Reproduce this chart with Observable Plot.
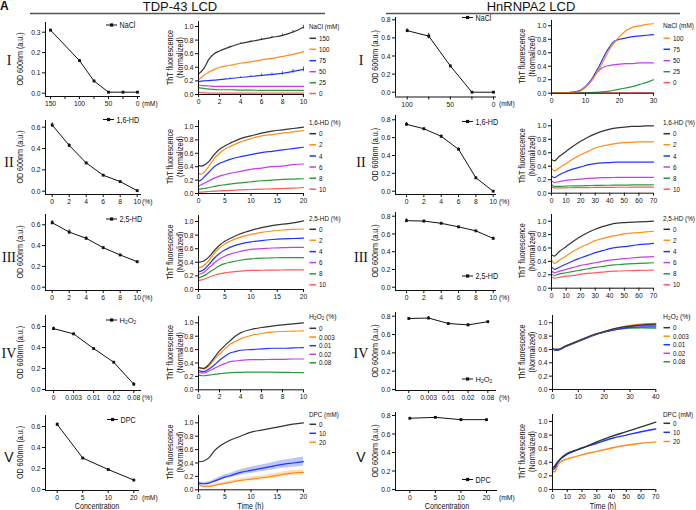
<!DOCTYPE html>
<html><head><meta charset="utf-8">
<script src="https://cdn.jsdelivr.net/npm/d3@7"></script>
<script src="https://cdn.jsdelivr.net/npm/@observablehq/plot@0.6"></script>
<style>
body{margin:0;background:#fff;}
#fig{position:relative;width:696px;height:510px;overflow:hidden;background:#fff;}
#fig svg{position:absolute;}
</style></head><body><div id="fig"></div>
<script>
// ---------------- DATA ----------------
// Row I : NaCl
const tdpNaClConc = [150, 100, 75, 50, 25, 0];
const tdpNaClOD = [0.31, 0.16, 0.06, 0.005, 0.005, 0.005];
const tdpNaClODErr = [0.004, 0.005, 0.004, 0.003, 0.003, 0.003];
const tdpNaClTime = [0, 0.5, 1, 1.5, 2, 3, 4, 5, 6, 7, 8, 9, 10];
const tdpNaClNames = ["150", "100", "75", "50", "25", "0"];
const tdpNaClThT = [
  [0.30, 0.38, 0.52, 0.60, 0.64, 0.70, 0.75, 0.78, 0.81, 0.84, 0.87, 0.92, 0.99],
  [0.22, 0.28, 0.33, 0.37, 0.40, 0.43, 0.46, 0.48, 0.51, 0.53, 0.56, 0.59, 0.63],
  [0.19, 0.20, 0.205, 0.21, 0.22, 0.235, 0.25, 0.265, 0.28, 0.295, 0.31, 0.34, 0.37],
  [0.14, 0.13, 0.125, 0.12, 0.12, 0.12, 0.12, 0.12, 0.12, 0.12, 0.12, 0.12, 0.12],
  [0.10, 0.09, 0.08, 0.075, 0.07, 0.07, 0.065, 0.065, 0.06, 0.06, 0.06, 0.06, 0.06],
  [0.03, 0.025, 0.02, 0.02, 0.02, 0.02, 0.02, 0.02, 0.02, 0.02, 0.02, 0.02, 0.02]
];
const tdpNaClThTErr = [
  [0, 0, 0, 0, 0, 0.01, 0.01, 0.01, 0.015, 0.015, 0.02, 0.02, 0.025],
  [0, 0, 0, 0, 0, 0, 0, 0, 0, 0, 0, 0, 0],
  [0, 0, 0, 0, 0, 0.01, 0.01, 0.015, 0.02, 0.02, 0.025, 0.03, 0.035],
  [0, 0, 0, 0, 0, 0, 0, 0, 0, 0, 0, 0, 0],
  [0, 0, 0, 0, 0, 0, 0, 0, 0, 0, 0, 0, 0],
  [0, 0, 0, 0, 0, 0, 0, 0, 0, 0, 0, 0, 0]
];
const hnNaClConc = [100, 75, 50, 25, 0];
const hnNaClOD = [0.68, 0.62, 0.29, 0.0, 0.0];
const hnNaClODErr = [0.02, 0.03, 0.01, 0.005, 0.005];
const hnNaClTime = [0, 5, 8, 10, 12, 13, 14, 15, 16, 17, 18, 20, 22, 24, 26, 28, 30];
const hnNaClNames = ["100", "75", "50", "25", "0"];
const hnNaClThT = [
  [0.01, 0.01, 0.02, 0.09, 0.20, 0.28, 0.36, 0.45, 0.55, 0.64, 0.72, 0.84, 0.93, 0.98, 1.0, 1.02, 1.03],
  [0.01, 0.01, 0.03, 0.10, 0.22, 0.31, 0.40, 0.50, 0.60, 0.68, 0.75, 0.80, 0.82, 0.84, 0.85, 0.86, 0.87],
  [0.01, 0.01, 0.03, 0.09, 0.20, 0.28, 0.34, 0.38, 0.40, 0.41, 0.42, 0.43, 0.44, 0.44, 0.45, 0.45, 0.45],
  [0, 0, 0.003, 0.005, 0.01, 0.012, 0.015, 0.02, 0.025, 0.03, 0.04, 0.06, 0.08, 0.10, 0.13, 0.16, 0.20],
  [0.005, 0.005, 0.005, 0.005, 0.005, 0.005, 0.005, 0.005, 0.005, 0.005, 0.005, 0.005, 0.005, 0.005, 0.005, 0.005, 0.005]
];
// Row II : 1,6-HD
const hdConc = [0, 2, 4, 6, 8, 10];
const tdp16OD = [0.62, 0.43, 0.265, 0.15, 0.09, 0.005];
const tdp16ODErr = [0.02, 0.015, 0.008, 0.006, 0.005, 0.004];
const tdp16Time = [0, 0.5, 1, 2, 3, 4, 5, 6, 8, 10, 12, 14, 16, 18, 20];
const hdNames = ["0", "2", "4", "6", "8", "10"];
const tdp16ThT = [
  [0.42, 0.41, 0.42, 0.48, 0.58, 0.66, 0.71, 0.75, 0.82, 0.86, 0.90, 0.93, 0.95, 0.97, 0.99],
  [0.30, 0.29, 0.31, 0.41, 0.52, 0.60, 0.66, 0.70, 0.77, 0.82, 0.86, 0.88, 0.90, 0.92, 0.94],
  [0.18, 0.20, 0.24, 0.32, 0.40, 0.45, 0.48, 0.51, 0.55, 0.58, 0.61, 0.63, 0.65, 0.67, 0.69],
  [0.11, 0.13, 0.15, 0.19, 0.23, 0.26, 0.28, 0.30, 0.33, 0.36, 0.38, 0.40, 0.41, 0.43, 0.44],
  [0.06, 0.07, 0.075, 0.09, 0.105, 0.12, 0.13, 0.14, 0.16, 0.175, 0.19, 0.20, 0.21, 0.215, 0.22],
  [0.02, 0.02, 0.025, 0.03, 0.035, 0.04, 0.043, 0.046, 0.055, 0.06, 0.065, 0.07, 0.075, 0.08, 0.09]
];
const hn16OD = [0.75, 0.70, 0.615, 0.47, 0.15, 0.0];
const hn16ODErr = [0.02, 0.008, 0.015, 0.015, 0.008, 0.005];
const hn16Time = [0, 2, 5, 10, 15, 20, 25, 30, 35, 40, 45, 50, 55, 60, 65, 70];
const hn16ThT = [
  [0.50, 0.48, 0.54, 0.62, 0.70, 0.77, 0.83, 0.88, 0.92, 0.95, 0.97, 0.98, 0.99, 0.99, 1.0, 1.0],
  [0.37, 0.33, 0.37, 0.44, 0.51, 0.57, 0.62, 0.67, 0.70, 0.72, 0.74, 0.75, 0.755, 0.76, 0.76, 0.76],
  [0.25, 0.23, 0.27, 0.32, 0.36, 0.39, 0.42, 0.44, 0.45, 0.455, 0.46, 0.46, 0.46, 0.46, 0.46, 0.46],
  [0.18, 0.16, 0.17, 0.19, 0.20, 0.21, 0.22, 0.225, 0.23, 0.23, 0.235, 0.235, 0.235, 0.235, 0.235, 0.235],
  [0.13, 0.10, 0.10, 0.105, 0.11, 0.11, 0.113, 0.115, 0.117, 0.118, 0.12, 0.12, 0.122, 0.123, 0.124, 0.125],
  [0.09, 0.08, 0.08, 0.08, 0.082, 0.083, 0.084, 0.085, 0.086, 0.087, 0.088, 0.088, 0.089, 0.09, 0.09, 0.09]
];
// Row III : 2,5-HD
const tdp25OD = [0.62, 0.53, 0.47, 0.38, 0.31, 0.245];
const tdp25ODErr = [0.02, 0.02, 0.015, 0.008, 0.005, 0.008];
const tdp25Time = [0, 1, 2, 3, 4, 5, 6, 8, 10, 12, 14, 16, 18, 20];
const tdp25ThT = [
  [0.40, 0.42, 0.48, 0.57, 0.65, 0.71, 0.75, 0.82, 0.87, 0.91, 0.94, 0.96, 0.98, 1.01],
  [0.32, 0.35, 0.43, 0.53, 0.61, 0.67, 0.71, 0.77, 0.81, 0.84, 0.86, 0.875, 0.885, 0.89],
  [0.26, 0.29, 0.37, 0.46, 0.53, 0.58, 0.62, 0.67, 0.70, 0.72, 0.735, 0.745, 0.75, 0.755],
  [0.22, 0.25, 0.32, 0.39, 0.45, 0.49, 0.52, 0.56, 0.59, 0.60, 0.61, 0.615, 0.62, 0.62],
  [0.17, 0.20, 0.25, 0.30, 0.35, 0.38, 0.40, 0.43, 0.45, 0.46, 0.465, 0.47, 0.47, 0.47],
  [0.13, 0.15, 0.18, 0.21, 0.23, 0.245, 0.255, 0.27, 0.28, 0.283, 0.285, 0.287, 0.289, 0.29]
];
const hn25OD = [0.75, 0.745, 0.72, 0.68, 0.635, 0.55];
const hn25ODErr = [0.02, 0.01, 0.01, 0.005, 0.005, 0.015];
const hn25Time = [0, 2, 5, 10, 15, 20, 25, 30, 35, 40, 45, 50, 60, 70];
const hn25ThT = [
  [0.50, 0.48, 0.54, 0.62, 0.70, 0.77, 0.83, 0.88, 0.92, 0.95, 0.97, 0.98, 0.99, 1.0],
  [0.42, 0.37, 0.41, 0.48, 0.55, 0.61, 0.66, 0.71, 0.74, 0.77, 0.79, 0.81, 0.83, 0.85],
  [0.32, 0.28, 0.31, 0.36, 0.41, 0.45, 0.49, 0.53, 0.56, 0.59, 0.61, 0.62, 0.65, 0.67],
  [0.26, 0.23, 0.25, 0.28, 0.31, 0.34, 0.36, 0.38, 0.40, 0.42, 0.43, 0.44, 0.46, 0.47],
  [0.21, 0.19, 0.21, 0.23, 0.25, 0.27, 0.29, 0.31, 0.325, 0.34, 0.35, 0.36, 0.37, 0.38],
  [0.17, 0.15, 0.16, 0.18, 0.19, 0.21, 0.22, 0.23, 0.24, 0.25, 0.255, 0.26, 0.265, 0.27]
];
// Row IV : H2O2
const h2o2Labels = ["0", "0.003", "0.01", "0.02", "0.08"];
const tdpH2O2OD = [0.58, 0.53, 0.39, 0.26, 0.05];
const tdpH2O2ODErr = [0.015, 0.005, 0.005, 0.005, 0.015];
const tdpH2O2Time = [0, 0.5, 1, 1.5, 2, 2.5, 3, 3.5, 4, 5, 6, 7, 8, 9, 10];
const tdpH2O2ThT = [
  [0.33, 0.32, 0.38, 0.48, 0.58, 0.66, 0.73, 0.80, 0.85, 0.90, 0.93, 0.95, 0.97, 0.985, 1.0],
  [0.34, 0.31, 0.36, 0.45, 0.53, 0.61, 0.68, 0.72, 0.76, 0.81, 0.84, 0.86, 0.87, 0.875, 0.88],
  [0.29, 0.27, 0.31, 0.37, 0.44, 0.50, 0.55, 0.57, 0.59, 0.60, 0.61, 0.62, 0.62, 0.625, 0.63],
  [0.26, 0.25, 0.28, 0.32, 0.36, 0.39, 0.42, 0.43, 0.44, 0.45, 0.45, 0.455, 0.455, 0.46, 0.46],
  [0.22, 0.21, 0.22, 0.23, 0.24, 0.25, 0.255, 0.26, 0.26, 0.265, 0.265, 0.263, 0.26, 0.258, 0.255]
];
const hnH2O2OD = [0.775, 0.78, 0.72, 0.705, 0.74];
const hnH2O2ODErr = [0.005, 0.015, 0.005, 0.015, 0.005];
const hnH2O2Time = [0, 1, 2, 5, 10, 15, 20, 25, 30, 35, 40];
const hnH2O2ThT = [
  [0.62, 0.60, 0.60, 0.65, 0.73, 0.81, 0.87, 0.92, 0.95, 0.97, 0.98],
  [0.62, 0.60, 0.60, 0.65, 0.73, 0.81, 0.87, 0.92, 0.96, 0.985, 0.99],
  [0.61, 0.59, 0.59, 0.64, 0.72, 0.80, 0.86, 0.90, 0.93, 0.94, 0.94],
  [0.62, 0.60, 0.60, 0.65, 0.73, 0.81, 0.87, 0.91, 0.94, 0.96, 0.96],
  [0.61, 0.59, 0.59, 0.64, 0.72, 0.80, 0.86, 0.90, 0.92, 0.925, 0.92]
];
// Row V : DPC
const dpcLabels = ["0", "5", "10", "20"];
const dpcNames = ["0", "10", "20"];
const tdpDpcOD = [0.62, 0.30, 0.19, 0.09];
const tdpDpcODErr = [0.015, 0.005, 0.005, 0.005];
const tdpDpcTime = [0, 1, 2, 3, 4, 5, 6, 8, 10, 12, 14, 16, 18, 20];
const tdpDpcThT = [
  [0.42, 0.43, 0.48, 0.58, 0.65, 0.70, 0.74, 0.80, 0.86, 0.89, 0.92, 0.95, 0.98, 1.0],
  [0.10, 0.09, 0.10, 0.13, 0.16, 0.19, 0.21, 0.26, 0.29, 0.32, 0.35, 0.38, 0.40, 0.42],
  [0.08, 0.05, 0.05, 0.065, 0.08, 0.095, 0.11, 0.14, 0.16, 0.18, 0.20, 0.23, 0.25, 0.26]
];
const tdpDpcThTErr = [
  [0, 0, 0, 0, 0, 0, 0, 0, 0, 0, 0, 0, 0, 0],
  [0.02, 0.02, 0.02, 0.025, 0.03, 0.03, 0.035, 0.04, 0.045, 0.05, 0.055, 0.06, 0.065, 0.07],
  [0.015, 0.015, 0.015, 0.02, 0.02, 0.02, 0.025, 0.025, 0.03, 0.03, 0.035, 0.035, 0.04, 0.04]
];
const hnDpcOD = [0.77, 0.78, 0.755, 0.755];
const hnDpcODErr = [0.005, 0.005, 0.012, 0.005];
const hnDpcTime = [0, 1, 2, 3, 5, 10, 15, 20, 30, 40, 50, 60, 70];
const hnDpcThT = [
  [0.32, 0.33, 0.36, 0.39, 0.44, 0.52, 0.57, 0.61, 0.70, 0.78, 0.85, 0.92, 0.99],
  [0.29, 0.30, 0.33, 0.38, 0.44, 0.53, 0.57, 0.61, 0.68, 0.75, 0.80, 0.85, 0.89],
  [0.26, 0.26, 0.27, 0.33, 0.40, 0.45, 0.48, 0.51, 0.56, 0.61, 0.65, 0.68, 0.70]
];

// ---------------- STYLE ----------------
const FONT = '"Liberation Sans", Arial, Helvetica, sans-serif';
const SQUEEZE = 0.84; // the figure's lettering is narrow
const C = {k: "#333333", o: "#ff8c1a", b: "#2035ff", p: "#c53cf2", g: "#2b9a3a", r: "#ff5a5a"};
const six = [C.k, C.o, C.b, C.p, C.g, C.r];
const five = [C.k, C.o, C.b, C.p, C.g];
const naclRight = [C.o, C.b, C.p, C.g, C.r];
const dpcCols = [C.k, C.b, C.o];
const lightCols = {[C.b]: "#aab6ff", [C.o]: "#ffd9a8"};

const fig = document.getElementById("fig");
function condense(root) {
  root.querySelectorAll("text").forEach(t => {
    if (t.classList.contains("keep") || t.querySelector("tspan")) return;
    const L = t.getComputedTextLength();
    if (L > 0) { t.setAttribute("textLength", (L * SQUEEZE).toFixed(2)); t.setAttribute("lengthAdjust", "spacingAndGlyphs"); }
  });
}
const ML = 30, MR = 14, MT = 6, MB = 16;
function lin(a, b, f0, f1) { const k = (b[0] - a[0]) / (b[1] - a[1]); return [a[0] + (f0 - a[1]) * k, a[0] + (f1 - a[1]) * k]; }

function panel(cfg) {
  const [x0, x1] = cfg.fx, [y0, y1] = cfg.fy;
  const xd = lin(cfg.xa[0], cfg.xa[1], x0, x1);
  const yd = lin(cfg.ya[0], cfg.ya[1], y1, y0);
  const svg = Plot.plot({
    width: x1 - x0 + ML + MR, height: y1 - y0 + MT + MB,
    marginLeft: ML, marginRight: MR, marginTop: MT, marginBottom: MB,
    x: {domain: xd}, y: {domain: yd},
    style: {background: "transparent", fontFamily: FONT, fontSize: "8px", color: "#111", overflow: "visible"},
    marks: [
      ...cfg.marks,
      Plot.ruleX([xd[0]], {stroke: "#111", strokeWidth: 1}),
      Plot.ruleY([yd[0]], {stroke: "#111", strokeWidth: 1}),
      Plot.axisY({ticks: cfg.yticks, tickSize: 3, tickPadding: 2, tickFormat: d3.format(".1f"), label: null}),
      Plot.axisX({ticks: cfg.xticks, tickSize: 3, tickPadding: 1, tickFormat: cfg.xfmt || (d => String(d)), label: null})
    ]
  });
  svg.style.left = (x0 - ML) + "px";
  svg.style.top = (y0 - MT) + "px";
  fig.appendChild(svg);
  condense(svg);
}

function odMarks(xs, ys, es) {
  const data = xs.map((x, i) => ({x, v: ys[i], e: es[i]}));
  return [
    Plot.line(data, {x: "x", y: "v", stroke: "#111", strokeWidth: 1}),
    Plot.ruleX(data, {x: "x", y1: d => d.v - d.e, y2: d => d.v + d.e, stroke: "#111", strokeWidth: 1}),
    Plot.dot(data, {x: "x", y: "v", symbol: "square", r: 1.6, fill: "#111", stroke: null})
  ];
}
function thtMarks(times, values, colors, opt = {}) {
  const marks = [];
  const order = values.map((_, j) => j).reverse();
  if (opt.bands) {
    order.forEach(j => {
      if (!opt.bands[j].some(e => e > 0)) return;
      const d = times.map((t, i) => ({t, lo: values[j][i] - opt.bands[j][i], hi: values[j][i] + opt.bands[j][i]}));
      marks.push(Plot.areaY(d, {x: "t", y1: "lo", y2: "hi", fill: lightCols[colors[j]], fillOpacity: 0.8, curve: "monotone-x"}));
    });
  }
  order.forEach(j => {
    const d = times.map((t, i) => ({t, v: values[j][i]}));
    if (opt.errs && opt.errs[j].some(e => e > 0)) {
      const de = times.map((t, i) => ({t, v: values[j][i], e: opt.errs[j][i]})).filter(x => x.e > 0);
      marks.push(Plot.ruleX(de, {x: "t", y1: q => q.v - q.e, y2: q => q.v + q.e, stroke: colors[j], strokeWidth: 0.8}));
    }
    marks.push(Plot.line(d, {x: "t", y: "v", stroke: colors[j], strokeWidth: opt.sw || 1.2, curve: "monotone-x"}));
  });
  return marks;
}
const yOD3 = [0, 0.1, 0.2, 0.3], yOD6 = [0, 0.2, 0.4, 0.6], yOD8 = [0, 0.2, 0.4, 0.6, 0.8];
const yT = [0, 0.2, 0.4, 0.6, 0.8, 1.0];
const idx4 = [0, 1, 2, 3], idx5 = [0, 1, 2, 3, 4];

// ---------------- PANELS ----------------
// Row I
panel({fx: [45, 140], fy: [22, 96], xa: [[150, 50], [0, 137]], ya: [[0, 92.7], [0.3, 31.7]],
  xticks: [150, 125, 100, 75, 50, 25, 0], xfmt: d => (d % 50 === 0 ? String(d) : ""), yticks: yOD3,
  marks: odMarks(tdpNaClConc, tdpNaClOD, tdpNaClODErr)});
panel({fx: [198, 303], fy: [21, 94], xa: [[0, 198], [10, 303]], ya: [[0, 94], [1, 26]],
  xticks: [0, 2, 4, 6, 8, 10], yticks: yT,
  marks: thtMarks(tdpNaClTime, tdpNaClThT, six, {errs: tdpNaClThTErr})});
panel({fx: [395, 496], fy: [17, 96.5], xa: [[100, 406.7], [0, 493]], ya: [[0, 91.7], [0.8, 19.3]],
  xticks: [100, 75, 50, 25, 0], xfmt: d => (d % 50 === 0 ? String(d) : ""), yticks: yOD8,
  marks: odMarks(hnNaClConc, hnNaClOD, hnNaClODErr)});
panel({fx: [551, 653], fy: [20, 92.7], xa: [[0, 551], [30, 653]], ya: [[0, 92.7], [1, 25.3]],
  xticks: [0, 10, 20, 30], yticks: yT, marks: thtMarks(hnNaClTime, hnNaClThT, naclRight)});
// Row II
panel({fx: [45, 141], fy: [120, 194], xa: [[0, 51.7], [10, 136.7]], ya: [[0, 190.7], [0.6, 126.7]],
  xticks: hdConc, yticks: yOD6, marks: odMarks(hdConc, tdp16OD, tdp16ODErr)});
panel({fx: [198, 303], fy: [120, 193], xa: [[0, 198], [20, 303]], ya: [[0, 193], [1, 126]],
  xticks: [0, 5, 10, 15, 20], yticks: yT, marks: thtMarks(tdp16Time, tdp16ThT, six)});
panel({fx: [395, 496], fy: [115, 194], xa: [[0, 406], [10, 492.7]], ya: [[0, 190.7], [0.8, 119.3]],
  xticks: hdConc, yticks: yOD8, marks: odMarks(hdConc, hn16OD, hn16ODErr)});
panel({fx: [551, 653], fy: [119, 192.7], xa: [[0, 551], [70, 653]], ya: [[0, 192.7], [1, 125.3]],
  xticks: [0, 10, 20, 30, 40, 50, 60, 70], yticks: yT, marks: thtMarks(hn16Time, hn16ThT, six)});
// Row III
panel({fx: [45, 141], fy: [214, 290], xa: [[0, 51.7], [10, 136.7]], ya: [[0, 286.7], [0.6, 224.3]],
  xticks: hdConc, yticks: yOD6, marks: odMarks(hdConc, tdp25OD, tdp25ODErr)});
panel({fx: [198, 303], fy: [215, 289], xa: [[0, 198], [20, 303]], ya: [[0, 289], [1, 221]],
  xticks: [0, 5, 10, 15, 20], yticks: yT, marks: thtMarks(tdp25Time, tdp25ThT, six)});
panel({fx: [395, 496], fy: [212, 290], xa: [[0, 406], [10, 492.7]], ya: [[0, 286.7], [0.8, 215.7]],
  xticks: hdConc, yticks: yOD8, marks: odMarks(hdConc, hn25OD, hn25ODErr)});
panel({fx: [551, 653], fy: [214, 287.7], xa: [[0, 551], [70, 653]], ya: [[0, 287.7], [1, 220.7]],
  xticks: [0, 10, 20, 30, 40, 50, 60, 70], yticks: yT, marks: thtMarks(hn25Time, hn25ThT, six)});
// Row IV
panel({fx: [45, 141], fy: [315, 390], xa: [[0, 53], [4, 133.3]], ya: [[0, 389], [0.6, 326]],
  xticks: idx5, xfmt: i => h2o2Labels[i], yticks: yOD6, marks: odMarks(idx5, tdpH2O2OD, tdpH2O2ODErr)});
panel({fx: [198, 303], fy: [316, 389.3], xa: [[0, 198], [10, 303]], ya: [[0, 389.3], [1, 322.3]],
  xticks: [0, 2, 4, 6, 8, 10], yticks: yT, marks: thtMarks(tdpH2O2Time, tdpH2O2ThT, five)});
panel({fx: [395, 496], fy: [312, 390], xa: [[0, 408.3], [4, 487.3]], ya: [[0, 389], [0.8, 315.7]],
  xticks: idx5, xfmt: i => h2o2Labels[i], yticks: yOD8, marks: odMarks(idx5, hnH2O2OD, hnH2O2ODErr)});
panel({fx: [551.7, 655], fy: [315, 389], xa: [[0, 551.7], [40, 655]], ya: [[0, 389], [1, 322.3]],
  xticks: [0, 10, 20, 30, 40], yticks: yT, marks: thtMarks(hnH2O2Time, hnH2O2ThT, five)});
// Row V
panel({fx: [45, 139], fy: [415, 490], xa: [[0, 56.7], [3, 133.3]], ya: [[0, 489], [0.6, 426]],
  xticks: idx4, xfmt: i => dpcLabels[i], yticks: yOD6, marks: odMarks(idx4, tdpDpcOD, tdpDpcODErr)});
panel({fx: [198, 303], fy: [415, 489.3], xa: [[0, 198], [20, 303]], ya: [[0, 489.3], [1, 422.3]],
  xticks: [0, 5, 10, 15, 20], yticks: yT, marks: thtMarks(tdpDpcTime, tdpDpcThT, dpcCols, {bands: tdpDpcThTErr})});
panel({fx: [395, 497], fy: [412, 490], xa: [[0, 409.3], [3, 486]], ya: [[0, 489], [0.8, 415]],
  xticks: idx4, xfmt: i => dpcLabels[i], yticks: yOD8, marks: odMarks(idx4, hnDpcOD, hnDpcODErr)});
panel({fx: [551.7, 655], fy: [414, 489], xa: [[0, 551.7], [70, 655]], ya: [[0, 489], [1, 421]],
  xticks: [0, 10, 20, 30, 40, 50, 60, 70], yticks: yT, marks: thtMarks(hnDpcTime, hnDpcThT, dpcCols, {sw: 1.4})});

// ---------------- DECORATIONS ----------------
const ov = d3.select(fig).append("svg").attr("width", 696).attr("height", 510)
  .style("left", "0px").style("top", "0px").style("font-family", FONT).style("pointer-events", "none");
function txt(x, y, s, o = {}) {
  const sz = o.size || 7.5;
  const t = ov.append("text").attr("x", x).attr("y", y).attr("font-size", sz)
    .attr("fill", o.fill || "#111").attr("text-anchor", o.anchor || "start")
    .attr("dominant-baseline", o.base || "central");
  if (o.keep) t.classed("keep", true);
  if (o.family) t.attr("font-family", o.family);
  if (o.weight) t.attr("font-weight", o.weight);
  if (o.rotate) t.attr("transform", `rotate(-90 ${x} ${y})`);
  if (o.h2o2) {
    t.append("tspan").text("H");
    t.append("tspan").text("2").attr("font-size", sz * 0.65).attr("dy", 2);
    t.append("tspan").text("O").attr("dy", -2);
    t.append("tspan").text("2").attr("font-size", sz * 0.65).attr("dy", 2);
    t.append("tspan").text(o.rest || "").attr("dy", -2);
  } else t.text(s);
  return t;
}
txt(0, 1, "A", {size: 12, weight: "bold", base: "hanging", keep: true});
txt(180, 6, "TDP-43 LCD", {size: 13, anchor: "middle", keep: true});
txt(531, 6, "HnRNPA2 LCD", {size: 13, anchor: "middle", keep: true});
ov.append("line").attr("x1", 30).attr("x2", 325).attr("y1", 13.5).attr("y2", 13.5).attr("stroke", "#555").attr("stroke-width", 1.3);
ov.append("line").attr("x1", 386).attr("x2", 680).attr("y1", 13.5).attr("y2", 13.5).attr("stroke", "#555").attr("stroke-width", 1.3);

const romans = [["I", 60], ["II", 162], ["III", 257], ["IV", 353], ["V", 457]];
romans.forEach(([r, y]) => {
  const fam = r === "V" ? FONT : '"Liberation Serif", "DejaVu Serif", serif';
  txt(9, y, r, {size: 14, anchor: "middle", family: fam, keep: true});
  txt(361, y, r, {size: 14, anchor: "middle", family: fam, keep: true});
});
// axis titles
const rowsY = [[22, 96, 21, 94], [120, 194, 120, 193], [214, 290, 215, 289], [315, 390, 316, 389], [415, 490, 415, 489]];
const rowsYR = [[17, 96.5, 20, 92.7], [115, 194, 119, 192.7], [212, 290, 214, 287.7], [312, 390, 315, 389], [412, 490, 414, 489]];
rowsY.forEach(([a, b, c, d]) => {
  txt(20, (a + b) / 2, "OD 600nm (a.u.)", {rotate: true, anchor: "middle", size: 8.5});
  txt(170, (c + d) / 2, "ThT fluorescence", {rotate: true, anchor: "middle", size: 8.5});
  txt(180, (c + d) / 2, "(Normalized)", {rotate: true, anchor: "middle", size: 8.5});
});
rowsYR.forEach(([a, b, c, d]) => {
  txt(375, (a + b) / 2, "OD 600nm (a.u.)", {rotate: true, anchor: "middle", size: 8.5});
  txt(522, (c + d) / 2, "ThT fluorescence", {rotate: true, anchor: "middle", size: 8.5});
  txt(532, (c + d) / 2, "(Normalized)", {rotate: true, anchor: "middle", size: 8.5});
});
// units next to x tick labels
const unitsL = ["(mM)", "(%)", "(%)", "(%)", "(mM)"];
rowsY.forEach(([a, b], i) => txt(142, b + 7, unitsL[i], {size: 8}));
rowsYR.forEach(([a, b], i) => txt(499, b + 7, unitsL[i], {size: 8}));
txt(97, 506, "Concentration", {anchor: "middle", size: 8.5});
txt(447, 506, "Concentration", {anchor: "middle", size: 8.5});
txt(250.5, 506, "Time (h)", {anchor: "middle", size: 8.5});
txt(603, 506, "Time (h)", {anchor: "middle", size: 8.5});

// OD legends
function odLegend(x, y, label, h2o2) {
  ov.append("line").attr("x1", x).attr("x2", x + 11).attr("y1", y).attr("y2", y).attr("stroke", "#111");
  ov.append("rect").attr("x", x + 4).attr("y", y - 1.6).attr("width", 3.2).attr("height", 3.2).attr("fill", "#111");
  txt(x + 13.5, y, label, h2o2 ? {h2o2: true, size: 7.5} : {size: 8.5});
}
odLegend(106, 25, "NaCl"); odLegend(462, 17.5, "NaCl");
odLegend(103, 119.5, "1,6-HD"); odLegend(462, 121.5, "1,6-HD");
odLegend(106, 219, "2,5-HD"); odLegend(462, 276, "2,5-HD");
odLegend(106, 320, "", true); odLegend(462, 379, "", true);
odLegend(107, 419.5, "DPC"); odLegend(462, 479.5, "DPC");

// ThT legends
function thtLegend(x, titleY, title, names, cols, ys, h2o2, right) {
  const tOpt = right ? {size: 6.4, keep: true} : {};
  if (h2o2) txt(x, titleY, "", {h2o2: true, rest: " (%)", size: 6.8}); else txt(x, titleY, title, tOpt);
  names.forEach((n, i) => {
    ov.append("line").attr("x1", x + 0.5).attr("x2", x + 7).attr("y1", ys[i]).attr("y2", ys[i]).attr("stroke", cols[i]).attr("stroke-width", 1.5);
    txt(x + 10, ys[i], n);
  });
}
const ys6 = t => [11, 22, 33.3, 44.3, 55.5, 66.5].map(d => t + d);
thtLegend(309, 26.7, "NaCl (mM)", tdpNaClNames, six, [38.3, 49.3, 60.7, 71.7, 82.7, 93.5]);
thtLegend(663, 25.3, "NaCl (mM)", hnNaClNames, naclRight, [38.3, 49.3, 60.7, 71.7, 82.7], false, true);
thtLegend(309, 122.7, "1,6-HD (%)", hdNames, six, ys6(122.7));
thtLegend(663, 122.7, "1,6-HD (%)", hdNames, six, ys6(122.7), false, true);
thtLegend(309, 218.3, "2,5-HD (%)", hdNames, six, ys6(218.3));
thtLegend(663, 218.3, "2,5-HD (%)", hdNames, six, ys6(218.3), false, true);
thtLegend(309, 315.7, "", h2o2Labels, five, [328.3, 337, 345.7, 354.3, 362.8], true);
thtLegend(663, 315.7, "", h2o2Labels, five, [327.7, 336.2, 344.7, 353.3, 361.8], true, true);
thtLegend(309, 414, "DPC (mM)", dpcNames, dpcCols, [424.3, 433.3, 442.3]);
thtLegend(663, 414, "DPC (mM)", dpcNames, dpcCols, [423.3, 432.3, 441.5], false, true);
condense(ov.node());
</script></body></html>
